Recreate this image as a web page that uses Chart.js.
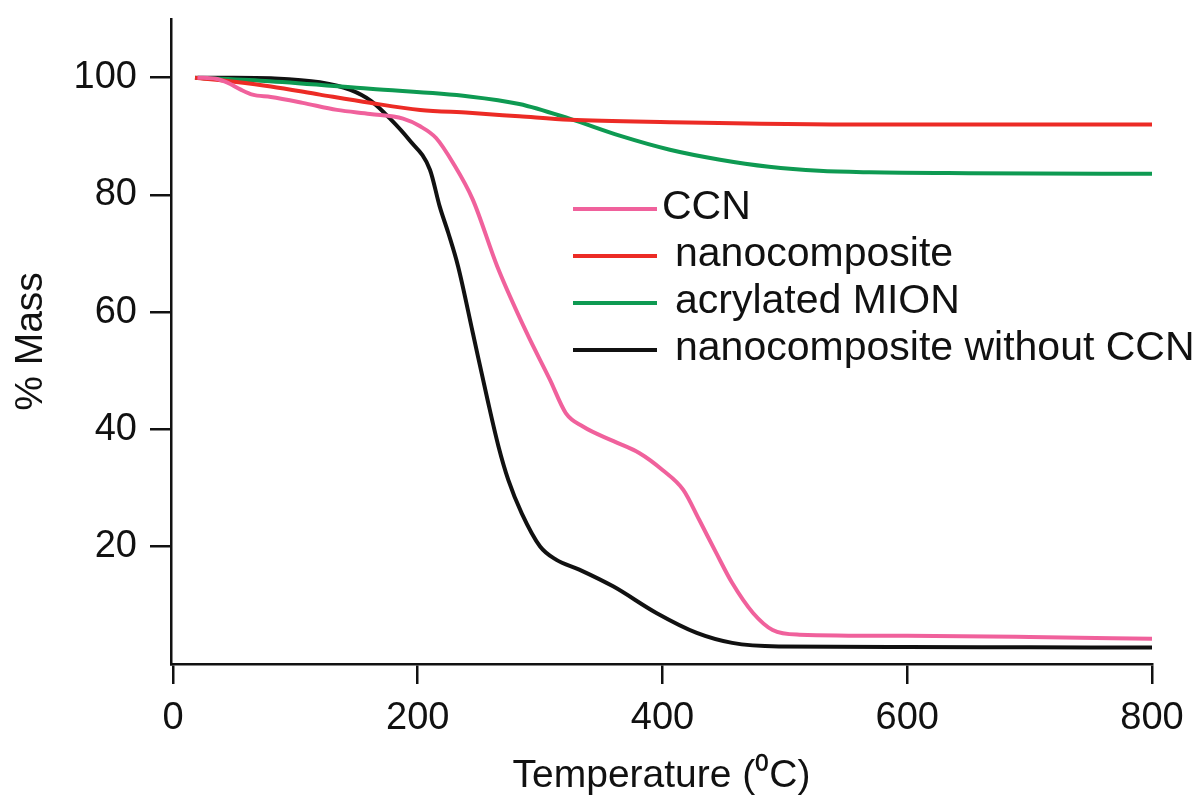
<!DOCTYPE html>
<html>
<head>
<meta charset="utf-8">
<title>TGA curves</title>
<script src="https://cdn.jsdelivr.net/npm/chart.js@4.4.1/dist/chart.umd.min.js"></script>
<style>
  html, body { margin: 0; padding: 0; background: #ffffff; }
  #wrap { width: 1204px; height: 796px; }
</style>
</head>
<body>
<div id="wrap"><canvas id="tga" width="1204" height="796"></canvas></div>
<script>
// Thermogravimetric curves: temperature (°C) vs. remaining mass (%)
const seriesLabels = ['CCN', 'nanocomposite', 'acrylated MION', 'nanocomposite without CCN'];

const tempCCN = [20, 35, 45, 55, 65, 80, 106, 134, 161, 188, 202, 215, 229, 245, 265, 289, 308, 321, 335, 360, 381, 400, 417, 430, 444, 457, 474, 490, 512, 600, 700, 800];
const massCCN = [100, 99.8, 99.1, 98.0, 97.1, 96.7, 95.7, 94.5, 93.8, 93.0, 91.7, 89.7, 85.4, 79.2, 67.8, 56.5, 48.5, 42.8, 40.5, 38.0, 36.0, 33.1, 29.7, 24.6, 18.9, 13.8, 8.7, 5.8, 5.0, 4.8, 4.6, 4.3];

const tempNano = [18, 50, 80, 120, 161, 202, 242, 283, 324, 406, 569, 800];
const massNano = [100, 99.3, 98.5, 97.1, 95.7, 94.5, 94.0, 93.4, 92.8, 92.4, 92.0, 92.0];

const tempMION = [18, 79, 161, 242, 283, 324, 365, 406, 447, 487, 528, 569, 650, 800];
const massMION = [100, 99.4, 98.1, 96.8, 95.5, 93.0, 90.1, 87.7, 86.0, 84.8, 84.1, 83.85, 83.7, 83.6];

const tempNoCCN = [20, 50, 80, 120, 145, 162, 177, 193, 210, 218, 225, 233, 245, 257, 266, 274, 285, 300, 313, 332, 360, 395, 428, 457, 495, 600, 700, 800];
const massNoCCN = [100, 100, 99.9, 99.2, 97.9, 96.0, 93.1, 89.4, 84.3, 78.0, 73.5, 67.8, 56.5, 45.1, 37.1, 31.4, 25.7, 20.05, 17.8, 16.1, 13.2, 8.7, 5.3, 3.6, 3.0, 2.9, 2.85, 2.8];

const xTickValues = [0, 200, 400, 600, 800];
const yTickValues = [20, 40, 60, 80, 100];

const colors = ['#f0619c', '#ec2b25', '#0e9a52', '#111111'];

const toPoints = (xs, ys) => xs.map((x, i) => ({ x: x, y: ys[i] }));

const FONT = '"Liberation Sans", Arial, Helvetica, sans-serif';

// Legend drawn inside the plot area, to the right of the curves
const insetLegend = {
  id: 'insetLegend',
  afterDraw(chart) {
    const ctx = chart.ctx;
    const area = chart.chartArea;
    const lineX0 = area.left + 402;
    const lineX1 = area.left + 486;
    const top = area.top + 190;
    const step = 47;
    ctx.save();
    ctx.font = '41px ' + FONT;
    ctx.textBaseline = 'middle';
    ctx.textAlign = 'left';
    chart.data.datasets.forEach((ds, i) => {
      const y = top + i * step;
      ctx.strokeStyle = ds.borderColor;
      ctx.lineWidth = 4;
      ctx.beginPath();
      ctx.moveTo(lineX0, y);
      ctx.lineTo(lineX1, y);
      ctx.stroke();
      ctx.fillStyle = '#111111';
      ctx.fillText(ds.label, i === 0 ? lineX1 + 5 : lineX1 + 18, y - 1);
    });
    ctx.restore();
  }
};

const makeDataset = (label, xs, ys, color) => ({
  label: label,
  data: toPoints(xs, ys),
  borderColor: color,
  backgroundColor: color,
  borderWidth: 4,
  pointRadius: 0,
  fill: false,
  cubicInterpolationMode: 'monotone'
});

new Chart(document.getElementById('tga'), {
  type: 'line',
  data: {
    datasets: [
      makeDataset(seriesLabels[0], tempCCN, massCCN, colors[0]),
      makeDataset(seriesLabels[1], tempNano, massNano, colors[1]),
      makeDataset(seriesLabels[2], tempMION, massMION, colors[2]),
      makeDataset(seriesLabels[3], tempNoCCN, massNoCCN, colors[3])
    ]
  },
  options: {
    responsive: false,
    devicePixelRatio: 1,
    animation: false,
    layout: { padding: { top: 19, right: 52, left: 0, bottom: 0 } },
    plugins: {
      legend: { display: false },
      tooltip: { enabled: false }
    },
    scales: {
      x: {
        type: 'linear',
        min: -1.6,
        max: 800,
        afterBuildTicks: (scale) => { scale.ticks = xTickValues.map(v => ({ value: v })); },
        afterFit: (scale) => { scale.height = 132; },
        border: { display: true, color: '#111111', width: 2.5 },
        grid: { display: true, drawOnChartArea: false, drawTicks: true, tickLength: 20, color: '#111111', lineWidth: 2.5 },
        ticks: { color: '#111111', font: { family: FONT, size: 38 }, padding: 12, maxRotation: 0 },
        title: { display: true, text: 'Temperature (\u2070C)', color: '#111111', font: { family: FONT, size: 39, lineHeight: 1 }, padding: { top: 0, bottom: 0 } }
      },
      y: {
        type: 'linear',
        min: 0,
        max: 110,
        afterBuildTicks: (scale) => { scale.ticks = yTickValues.map(v => ({ value: v })); },
        afterFit: (scale) => {
          scale.width = 171;
          scale.paddingTop = 0;
          scale.paddingBottom = 0;
        },
        border: { display: true, color: '#111111', width: 2.5 },
        grid: { display: true, drawOnChartArea: false, drawTicks: true, tickLength: 21, color: '#111111', lineWidth: 2.5 },
        ticks: { color: '#111111', font: { family: FONT, size: 38 }, padding: 13 },
        title: { display: true, text: '% Mass', color: '#111111', font: { family: FONT, size: 39, lineHeight: 1 }, padding: { top: 12, bottom: 0 } }
      }
    }
  },
  plugins: [insetLegend]
});
</script>
</body>
</html>
